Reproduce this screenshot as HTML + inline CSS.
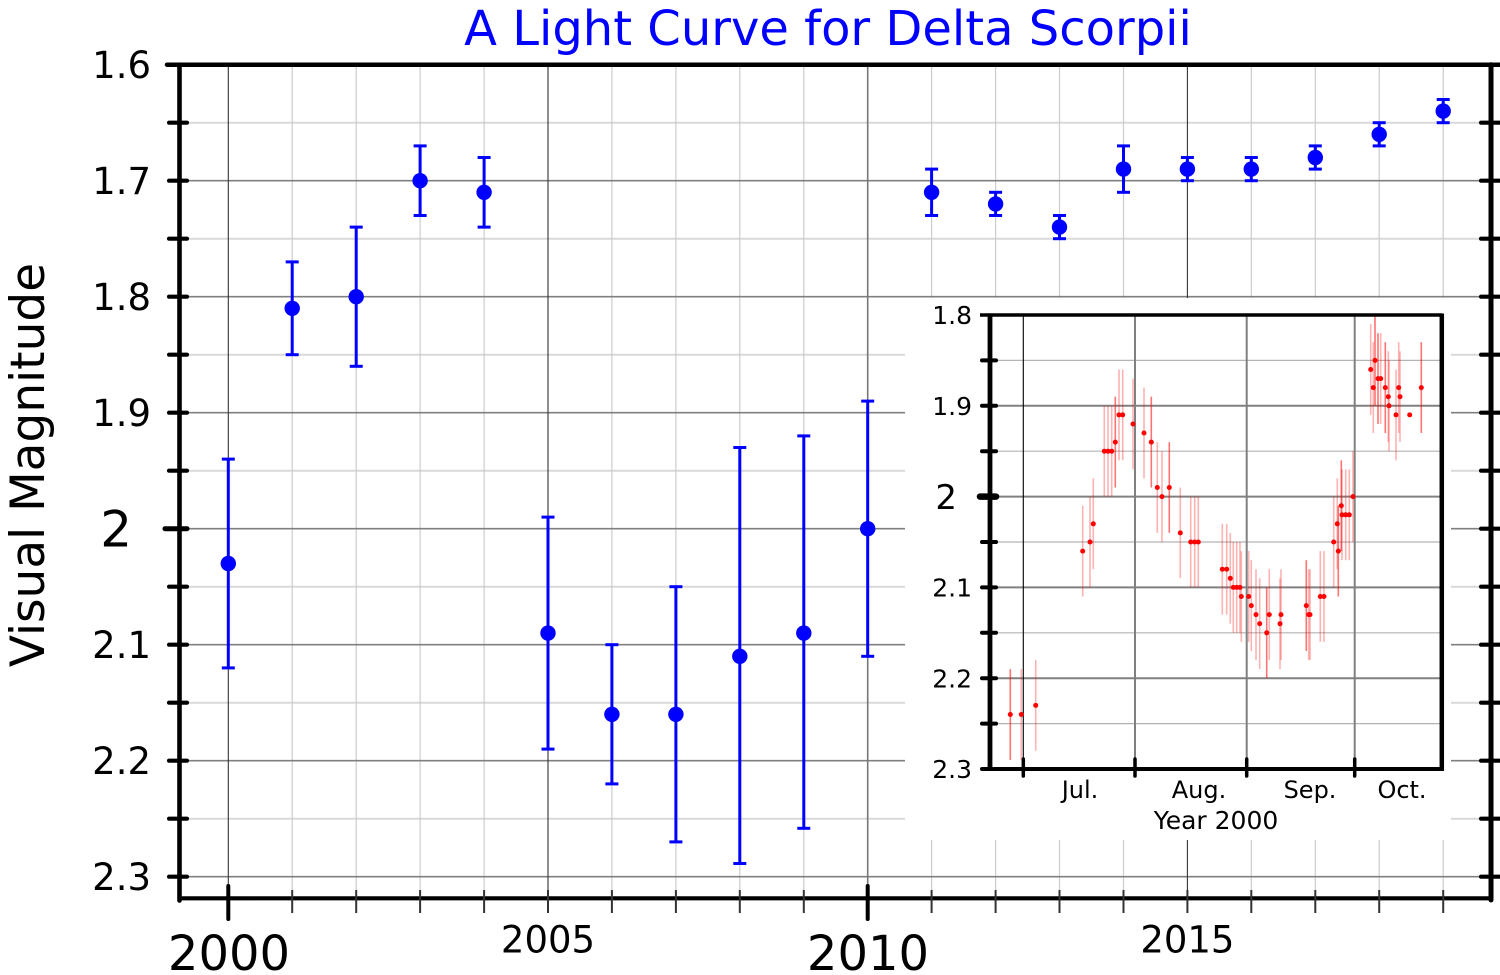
<!DOCTYPE html>
<html><head><meta charset="utf-8"><style>
html,body{margin:0;padding:0;background:#fff;}
svg{display:block;}
text{font-family:"DejaVu Sans","Liberation Sans",sans-serif;fill:#000;}
</style></head><body>
<svg width="1500" height="975" viewBox="0 0 1500 975" xmlns="http://www.w3.org/2000/svg">
<rect x="0" y="0" width="1500" height="975" fill="#fff"/>
<text x="828" y="45" font-size="48" text-anchor="middle" style="fill:#0000ff">A Light Curve for Delta Scorpii</text>
<text x="44" y="465" font-size="47" text-anchor="middle" transform="rotate(-90 44 465)">Visual Magnitude</text>
<g stroke="#d9d9d9" stroke-width="2">
<line x1="180" x2="1491" y1="122.7" y2="122.7"/>
<line x1="180" x2="1491" y1="238.7" y2="238.7"/>
<line x1="180" x2="1491" y1="354.7" y2="354.7"/>
<line x1="180" x2="1491" y1="470.7" y2="470.7"/>
<line x1="180" x2="1491" y1="586.7" y2="586.7"/>
<line x1="180" x2="1491" y1="702.7" y2="702.7"/>
<line x1="180" x2="1491" y1="818.7" y2="818.7"/>
</g>
<g stroke="#cccccc" stroke-width="1.2">
<line x1="292.2" x2="292.2" y1="65" y2="898"/>
<line x1="356.2" x2="356.2" y1="65" y2="898"/>
<line x1="420.1" x2="420.1" y1="65" y2="898"/>
<line x1="484.1" x2="484.1" y1="65" y2="898"/>
<line x1="611.9" x2="611.9" y1="65" y2="898"/>
<line x1="675.9" x2="675.9" y1="65" y2="898"/>
<line x1="739.8" x2="739.8" y1="65" y2="898"/>
<line x1="803.8" x2="803.8" y1="65" y2="898"/>
<line x1="931.6" x2="931.6" y1="65" y2="898"/>
<line x1="995.6" x2="995.6" y1="65" y2="898"/>
<line x1="1059.5" x2="1059.5" y1="65" y2="898"/>
<line x1="1123.5" x2="1123.5" y1="65" y2="898"/>
<line x1="1251.3" x2="1251.3" y1="65" y2="898"/>
<line x1="1315.3" x2="1315.3" y1="65" y2="898"/>
<line x1="1379.2" x2="1379.2" y1="65" y2="898"/>
<line x1="1443.2" x2="1443.2" y1="65" y2="898"/>
</g>
<g stroke="#808080" stroke-width="1.6">
<line x1="180" x2="1491" y1="180.7" y2="180.7"/>
<line x1="180" x2="1491" y1="296.7" y2="296.7"/>
<line x1="180" x2="1491" y1="412.7" y2="412.7"/>
<line x1="180" x2="1491" y1="528.7" y2="528.7"/>
<line x1="180" x2="1491" y1="644.7" y2="644.7"/>
<line x1="180" x2="1491" y1="760.7" y2="760.7"/>
<line x1="180" x2="1491" y1="876.7" y2="876.7"/>
</g>
<g stroke="#333" stroke-width="1.1">
<line x1="228.3" x2="228.3" y1="65" y2="898"/>
<line x1="548" x2="548" y1="65" y2="898"/>
<line x1="1187.4" x2="1187.4" y1="65" y2="898"/>
</g>
<line x1="867.7" x2="867.7" y1="65" y2="898" stroke="#777" stroke-width="1.6"/>
<g stroke="#0000ff" stroke-width="3" fill="#0000ff">
<line x1="228.3" x2="228.3" y1="459.1" y2="667.9"/><line x1="221.8" x2="234.8" y1="459.1" y2="459.1"/><line x1="221.8" x2="234.8" y1="667.9" y2="667.9"/>
<line x1="292.2" x2="292.2" y1="261.9" y2="354.7"/><line x1="285.7" x2="298.7" y1="261.9" y2="261.9"/><line x1="285.7" x2="298.7" y1="354.7" y2="354.7"/>
<line x1="356.2" x2="356.2" y1="227.1" y2="366.3"/><line x1="349.7" x2="362.7" y1="227.1" y2="227.1"/><line x1="349.7" x2="362.7" y1="366.3" y2="366.3"/>
<line x1="420.1" x2="420.1" y1="145.9" y2="215.5"/><line x1="413.6" x2="426.6" y1="145.9" y2="145.9"/><line x1="413.6" x2="426.6" y1="215.5" y2="215.5"/>
<line x1="484.1" x2="484.1" y1="157.5" y2="227.1"/><line x1="477.6" x2="490.6" y1="157.5" y2="157.5"/><line x1="477.6" x2="490.6" y1="227.1" y2="227.1"/>
<line x1="548" x2="548" y1="517.1" y2="749.1"/><line x1="541.5" x2="554.5" y1="517.1" y2="517.1"/><line x1="541.5" x2="554.5" y1="749.1" y2="749.1"/>
<line x1="611.9" x2="611.9" y1="644.7" y2="783.9"/><line x1="605.4" x2="618.4" y1="644.7" y2="644.7"/><line x1="605.4" x2="618.4" y1="783.9" y2="783.9"/>
<line x1="675.9" x2="675.9" y1="586.7" y2="841.9"/><line x1="669.4" x2="682.4" y1="586.7" y2="586.7"/><line x1="669.4" x2="682.4" y1="841.9" y2="841.9"/>
<line x1="739.8" x2="739.8" y1="447.5" y2="863.5"/><line x1="733.3" x2="746.3" y1="447.5" y2="447.5"/><line x1="733.3" x2="746.3" y1="863.5" y2="863.5"/>
<line x1="803.8" x2="803.8" y1="435.9" y2="828.3"/><line x1="797.3" x2="810.3" y1="435.9" y2="435.9"/><line x1="797.3" x2="810.3" y1="828.3" y2="828.3"/>
<line x1="867.7" x2="867.7" y1="401.1" y2="656.3"/><line x1="861.2" x2="874.2" y1="401.1" y2="401.1"/><line x1="861.2" x2="874.2" y1="656.3" y2="656.3"/>
<line x1="931.6" x2="931.6" y1="169.1" y2="215.5"/><line x1="925.1" x2="938.1" y1="169.1" y2="169.1"/><line x1="925.1" x2="938.1" y1="215.5" y2="215.5"/>
<line x1="995.6" x2="995.6" y1="192.3" y2="215.5"/><line x1="989.1" x2="1002.1" y1="192.3" y2="192.3"/><line x1="989.1" x2="1002.1" y1="215.5" y2="215.5"/>
<line x1="1059.5" x2="1059.5" y1="215.5" y2="238.7"/><line x1="1053" x2="1066" y1="215.5" y2="215.5"/><line x1="1053" x2="1066" y1="238.7" y2="238.7"/>
<line x1="1123.5" x2="1123.5" y1="145.9" y2="192.3"/><line x1="1117" x2="1130" y1="145.9" y2="145.9"/><line x1="1117" x2="1130" y1="192.3" y2="192.3"/>
<line x1="1187.4" x2="1187.4" y1="157.5" y2="180.7"/><line x1="1180.9" x2="1193.9" y1="157.5" y2="157.5"/><line x1="1180.9" x2="1193.9" y1="180.7" y2="180.7"/>
<line x1="1251.3" x2="1251.3" y1="157.5" y2="180.7"/><line x1="1244.8" x2="1257.8" y1="157.5" y2="157.5"/><line x1="1244.8" x2="1257.8" y1="180.7" y2="180.7"/>
<line x1="1315.3" x2="1315.3" y1="145.9" y2="169.1"/><line x1="1308.8" x2="1321.8" y1="145.9" y2="145.9"/><line x1="1308.8" x2="1321.8" y1="169.1" y2="169.1"/>
<line x1="1379.2" x2="1379.2" y1="122.7" y2="145.9"/><line x1="1372.7" x2="1385.7" y1="122.7" y2="122.7"/><line x1="1372.7" x2="1385.7" y1="145.9" y2="145.9"/>
<line x1="1443.2" x2="1443.2" y1="99.5" y2="122.7"/><line x1="1436.7" x2="1449.7" y1="99.5" y2="99.5"/><line x1="1436.7" x2="1449.7" y1="122.7" y2="122.7"/>
</g>
<g fill="#0000ff">
<circle cx="228.3" cy="563.5" r="7.7"/>
<circle cx="292.2" cy="308.3" r="7.7"/>
<circle cx="356.2" cy="296.7" r="7.7"/>
<circle cx="420.1" cy="180.7" r="7.7"/>
<circle cx="484.1" cy="192.3" r="7.7"/>
<circle cx="548" cy="633.1" r="7.7"/>
<circle cx="611.9" cy="714.3" r="7.7"/>
<circle cx="675.9" cy="714.3" r="7.7"/>
<circle cx="739.8" cy="656.3" r="7.7"/>
<circle cx="803.8" cy="633.1" r="7.7"/>
<circle cx="867.7" cy="528.7" r="7.7"/>
<circle cx="931.6" cy="192.3" r="7.7"/>
<circle cx="995.6" cy="203.9" r="7.7"/>
<circle cx="1059.5" cy="227.1" r="7.7"/>
<circle cx="1123.5" cy="169.1" r="7.7"/>
<circle cx="1187.4" cy="169.1" r="7.7"/>
<circle cx="1251.3" cy="169.1" r="7.7"/>
<circle cx="1315.3" cy="157.5" r="7.7"/>
<circle cx="1379.2" cy="134.3" r="7.7"/>
<circle cx="1443.2" cy="111.1" r="7.7"/>
</g>
<g stroke="#000" stroke-linecap="round">
<line x1="167" x2="1500" y1="64.7" y2="64.7" stroke-width="4.5"/>
<line x1="179.5" x2="179.5" y1="64.7" y2="900.5" stroke-width="4.6"/>
<line x1="179.5" x2="1491" y1="898.3" y2="898.3" stroke-width="4.2"/>
<line x1="1491" x2="1491" y1="64.7" y2="900" stroke-width="5"/>
</g>
<g stroke="#000" stroke-width="4.2" stroke-linecap="round">
<line x1="169" x2="187" y1="122.7" y2="122.7"/>
<line x1="169" x2="187" y1="180.7" y2="180.7"/>
<line x1="169" x2="187" y1="238.7" y2="238.7"/>
<line x1="169" x2="187" y1="296.7" y2="296.7"/>
<line x1="169" x2="187" y1="354.7" y2="354.7"/>
<line x1="169" x2="187" y1="412.7" y2="412.7"/>
<line x1="169" x2="187" y1="470.7" y2="470.7"/>
<line x1="165" x2="187" y1="528.7" y2="528.7" stroke-width="5"/>
<line x1="169" x2="187" y1="586.7" y2="586.7"/>
<line x1="169" x2="187" y1="644.7" y2="644.7"/>
<line x1="169" x2="187" y1="702.7" y2="702.7"/>
<line x1="169" x2="187" y1="760.7" y2="760.7"/>
<line x1="169" x2="187" y1="818.7" y2="818.7"/>
<line x1="169" x2="187" y1="876.7" y2="876.7"/>
<line x1="1481" x2="1500" y1="122.7" y2="122.7"/>
<line x1="1481" x2="1500" y1="180.7" y2="180.7"/>
<line x1="1481" x2="1500" y1="238.7" y2="238.7"/>
<line x1="1481" x2="1500" y1="296.7" y2="296.7"/>
<line x1="1481" x2="1500" y1="354.7" y2="354.7"/>
<line x1="1481" x2="1500" y1="412.7" y2="412.7"/>
<line x1="1481" x2="1500" y1="470.7" y2="470.7"/>
<line x1="1481" x2="1500" y1="528.7" y2="528.7"/>
<line x1="1481" x2="1500" y1="586.7" y2="586.7"/>
<line x1="1481" x2="1500" y1="644.7" y2="644.7"/>
<line x1="1481" x2="1500" y1="702.7" y2="702.7"/>
<line x1="1481" x2="1500" y1="760.7" y2="760.7"/>
<line x1="1481" x2="1500" y1="818.7" y2="818.7"/>
<line x1="1481" x2="1500" y1="876.7" y2="876.7"/>
</g>
<g stroke="#000" stroke-width="4" stroke-linecap="round">
<line x1="228.3" x2="228.3" y1="886" y2="919"/>
<line x1="867.7" x2="867.7" y1="886" y2="919"/>
</g>
<g stroke="#333" stroke-width="2">
<line x1="292.2" x2="292.2" y1="890" y2="913"/>
<line x1="356.2" x2="356.2" y1="890" y2="913"/>
<line x1="420.1" x2="420.1" y1="890" y2="913"/>
<line x1="484.1" x2="484.1" y1="890" y2="913"/>
<line x1="548" x2="548" y1="890" y2="913"/>
<line x1="611.9" x2="611.9" y1="890" y2="913"/>
<line x1="675.9" x2="675.9" y1="890" y2="913"/>
<line x1="739.8" x2="739.8" y1="890" y2="913"/>
<line x1="803.8" x2="803.8" y1="890" y2="913"/>
<line x1="931.6" x2="931.6" y1="890" y2="913"/>
<line x1="995.6" x2="995.6" y1="890" y2="913"/>
<line x1="1059.5" x2="1059.5" y1="890" y2="913"/>
<line x1="1123.5" x2="1123.5" y1="890" y2="913"/>
<line x1="1187.4" x2="1187.4" y1="890" y2="913"/>
<line x1="1251.3" x2="1251.3" y1="890" y2="913"/>
<line x1="1315.3" x2="1315.3" y1="890" y2="913"/>
<line x1="1379.2" x2="1379.2" y1="890" y2="913"/>
<line x1="1443.2" x2="1443.2" y1="890" y2="913"/>
</g>
<g font-size="37" text-anchor="end">
<text x="151" y="78.2">1.6</text>
<text x="151" y="194.2">1.7</text>
<text x="151" y="310.2">1.8</text>
<text x="151" y="426.2">1.9</text>
<text x="132" y="546.7" font-size="50">2</text>
<text x="151" y="658.2">2.1</text>
<text x="151" y="774.2">2.2</text>
<text x="151" y="890.2">2.3</text>
</g>
<g text-anchor="middle">
<text x="229" y="970" font-size="48">2000</text>
<text x="548" y="952.7" font-size="37">2005</text>
<text x="868" y="970" font-size="48">2010</text>
<text x="1187.4" y="952.7" font-size="37">2015</text>
</g>
<rect x="905" y="298" width="546" height="542" fill="#fff"/>
<g stroke="#b3b3b3" stroke-width="1.2">
<line x1="990" x2="1442" y1="360.4" y2="360.4"/>
<line x1="990" x2="1442" y1="451.2" y2="451.2"/>
<line x1="990" x2="1442" y1="542" y2="542"/>
<line x1="990" x2="1442" y1="632.8" y2="632.8"/>
<line x1="990" x2="1442" y1="723.6" y2="723.6"/>
</g>
<g stroke="#808080" stroke-width="2">
<line x1="990" x2="1442" y1="405.8" y2="405.8"/>
<line x1="990" x2="1442" y1="496.6" y2="496.6"/>
<line x1="990" x2="1442" y1="587.4" y2="587.4"/>
<line x1="990" x2="1442" y1="678.2" y2="678.2"/>
<line x1="1135" x2="1135" y1="315" y2="769"/>
<line x1="1246.7" x2="1246.7" y1="315" y2="769"/>
<line x1="1354.7" x2="1354.7" y1="315" y2="769"/>
</g>
<line x1="1023.3" x2="1023.3" y1="315" y2="769" stroke="#000" stroke-width="1.1"/>
<g stroke="rgba(255,0,0,0.3)" stroke-width="1.6">
<line x1="1021.3" x2="1021.3" y1="669.1" y2="759.9"/>
<line x1="1035.7" x2="1035.7" y1="660" y2="750.8"/>
<line x1="1082.7" x2="1082.7" y1="505.7" y2="596.5"/>
<line x1="1090" x2="1090" y1="496.6" y2="587.4"/>
<line x1="1093.3" x2="1093.3" y1="478.4" y2="569.2"/>
<line x1="1104.3" x2="1104.3" y1="405.8" y2="496.6"/>
<line x1="1108" x2="1108" y1="405.8" y2="496.6"/>
<line x1="1111.7" x2="1111.7" y1="405.8" y2="496.6"/>
<line x1="1119" x2="1119" y1="369.5" y2="460.3"/>
<line x1="1122.7" x2="1122.7" y1="369.5" y2="460.3"/>
<line x1="1133" x2="1133" y1="378.6" y2="469.4"/>
<line x1="1144" x2="1144" y1="387.6" y2="478.4"/>
<line x1="1157.3" x2="1157.3" y1="442.1" y2="532.9"/>
<line x1="1162" x2="1162" y1="451.2" y2="542"/>
<line x1="1180.3" x2="1180.3" y1="487.5" y2="578.3"/>
<line x1="1190.7" x2="1190.7" y1="496.6" y2="587.4"/>
<line x1="1194.7" x2="1194.7" y1="496.6" y2="587.4"/>
<line x1="1198.3" x2="1198.3" y1="496.6" y2="587.4"/>
<line x1="1222.3" x2="1222.3" y1="523.8" y2="614.6"/>
<line x1="1226.7" x2="1226.7" y1="523.8" y2="614.6"/>
<line x1="1230.3" x2="1230.3" y1="532.9" y2="623.7"/>
<line x1="1233.3" x2="1233.3" y1="542" y2="632.8"/>
<line x1="1236.7" x2="1236.7" y1="542" y2="632.8"/>
<line x1="1240" x2="1240" y1="542" y2="632.8"/>
<line x1="1241.3" x2="1241.3" y1="551.1" y2="641.9"/>
<line x1="1248.7" x2="1248.7" y1="551.1" y2="641.9"/>
<line x1="1251.3" x2="1251.3" y1="560.2" y2="651"/>
<line x1="1256" x2="1256" y1="569.2" y2="660"/>
<line x1="1259.7" x2="1259.7" y1="578.3" y2="669.1"/>
<line x1="1269.3" x2="1269.3" y1="569.2" y2="660"/>
<line x1="1280" x2="1280" y1="578.3" y2="669.1"/>
<line x1="1281" x2="1281" y1="569.2" y2="660"/>
<line x1="1308.7" x2="1308.7" y1="569.2" y2="660"/>
<line x1="1310" x2="1310" y1="569.2" y2="660"/>
<line x1="1320.3" x2="1320.3" y1="551.1" y2="641.9"/>
<line x1="1324" x2="1324" y1="551.1" y2="641.9"/>
<line x1="1333.7" x2="1333.7" y1="496.6" y2="587.4"/>
<line x1="1337.3" x2="1337.3" y1="478.4" y2="569.2"/>
<line x1="1342" x2="1342" y1="469.4" y2="560.2"/>
<line x1="1345.7" x2="1345.7" y1="469.4" y2="560.2"/>
<line x1="1349.3" x2="1349.3" y1="469.4" y2="560.2"/>
<line x1="1353" x2="1353" y1="451.2" y2="542"/>
<line x1="1370.7" x2="1370.7" y1="324.1" y2="414.9"/>
<line x1="1373.3" x2="1373.3" y1="342.2" y2="433"/>
<line x1="1380.7" x2="1380.7" y1="333.2" y2="424"/>
<line x1="1388.3" x2="1388.3" y1="351.3" y2="442.1"/>
<line x1="1389" x2="1389" y1="360.4" y2="451.2"/>
<line x1="1396" x2="1396" y1="369.5" y2="460.3"/>
<line x1="1398.7" x2="1398.7" y1="342.2" y2="433"/>
<line x1="1400" x2="1400" y1="351.3" y2="442.1"/>
</g>
<g stroke="rgba(255,0,0,0.55)" stroke-width="1.6">
<line x1="1010.3" x2="1010.3" y1="669.1" y2="759.9"/>
<line x1="1115.3" x2="1115.3" y1="396.7" y2="487.5"/>
<line x1="1151.3" x2="1151.3" y1="396.7" y2="487.5"/>
<line x1="1169.3" x2="1169.3" y1="442.1" y2="532.9"/>
<line x1="1266.7" x2="1266.7" y1="587.4" y2="678.2"/>
<line x1="1306.3" x2="1306.3" y1="560.2" y2="651"/>
<line x1="1338.3" x2="1338.3" y1="505.7" y2="596.5"/>
<line x1="1341.3" x2="1341.3" y1="460.3" y2="551.1"/>
<line x1="1375" x2="1375" y1="315" y2="405.8"/>
<line x1="1378" x2="1378" y1="333.2" y2="424"/>
<line x1="1385.3" x2="1385.3" y1="342.2" y2="433"/>
<line x1="1421.3" x2="1421.3" y1="342.2" y2="433"/>
</g>
<g fill="#ff0000">
<circle cx="1010.3" cy="714.5" r="2.5"/>
<circle cx="1021.3" cy="714.5" r="2.5"/>
<circle cx="1035.7" cy="705.4" r="2.5"/>
<circle cx="1082.7" cy="551.1" r="2.5"/>
<circle cx="1090" cy="542" r="2.5"/>
<circle cx="1093.3" cy="523.8" r="2.5"/>
<circle cx="1104.3" cy="451.2" r="2.5"/>
<circle cx="1108" cy="451.2" r="2.5"/>
<circle cx="1111.7" cy="451.2" r="2.5"/>
<circle cx="1115.3" cy="442.1" r="2.5"/>
<circle cx="1119" cy="414.9" r="2.5"/>
<circle cx="1122.7" cy="414.9" r="2.5"/>
<circle cx="1133" cy="424" r="2.5"/>
<circle cx="1144" cy="433" r="2.5"/>
<circle cx="1151.3" cy="442.1" r="2.5"/>
<circle cx="1157.3" cy="487.5" r="2.5"/>
<circle cx="1162" cy="496.6" r="2.5"/>
<circle cx="1169.3" cy="487.5" r="2.5"/>
<circle cx="1180.3" cy="532.9" r="2.5"/>
<circle cx="1190.7" cy="542" r="2.5"/>
<circle cx="1194.7" cy="542" r="2.5"/>
<circle cx="1198.3" cy="542" r="2.5"/>
<circle cx="1222.3" cy="569.2" r="2.5"/>
<circle cx="1226.7" cy="569.2" r="2.5"/>
<circle cx="1230.3" cy="578.3" r="2.5"/>
<circle cx="1233.3" cy="587.4" r="2.5"/>
<circle cx="1236.7" cy="587.4" r="2.5"/>
<circle cx="1240" cy="587.4" r="2.5"/>
<circle cx="1241.3" cy="596.5" r="2.5"/>
<circle cx="1248.7" cy="596.5" r="2.5"/>
<circle cx="1251.3" cy="605.6" r="2.5"/>
<circle cx="1256" cy="614.6" r="2.5"/>
<circle cx="1259.7" cy="623.7" r="2.5"/>
<circle cx="1266.7" cy="632.8" r="2.5"/>
<circle cx="1269.3" cy="614.6" r="2.5"/>
<circle cx="1280" cy="623.7" r="2.5"/>
<circle cx="1281" cy="614.6" r="2.5"/>
<circle cx="1306.3" cy="605.6" r="2.5"/>
<circle cx="1308.7" cy="614.6" r="2.5"/>
<circle cx="1310" cy="614.6" r="2.5"/>
<circle cx="1320.3" cy="596.5" r="2.5"/>
<circle cx="1324" cy="596.5" r="2.5"/>
<circle cx="1333.7" cy="542" r="2.5"/>
<circle cx="1338.3" cy="551.1" r="2.5"/>
<circle cx="1337.3" cy="523.8" r="2.5"/>
<circle cx="1341.3" cy="505.7" r="2.5"/>
<circle cx="1342" cy="514.8" r="2.5"/>
<circle cx="1345.7" cy="514.8" r="2.5"/>
<circle cx="1349.3" cy="514.8" r="2.5"/>
<circle cx="1353" cy="496.6" r="2.5"/>
<circle cx="1370.7" cy="369.5" r="2.5"/>
<circle cx="1373.3" cy="387.6" r="2.5"/>
<circle cx="1375" cy="360.4" r="2.5"/>
<circle cx="1378" cy="378.6" r="2.5"/>
<circle cx="1380.7" cy="378.6" r="2.5"/>
<circle cx="1385.3" cy="387.6" r="2.5"/>
<circle cx="1388.3" cy="396.7" r="2.5"/>
<circle cx="1389" cy="405.8" r="2.5"/>
<circle cx="1396" cy="414.9" r="2.5"/>
<circle cx="1398.7" cy="387.6" r="2.5"/>
<circle cx="1400" cy="396.7" r="2.5"/>
<circle cx="1409.7" cy="414.9" r="2.5"/>
<circle cx="1421.3" cy="387.6" r="2.5"/>
</g>
<g stroke="#000">
<line x1="980" x2="1442" y1="315" y2="315" stroke-width="3.5"/>
<line x1="990" x2="990" y1="313.5" y2="771" stroke-width="4.8"/>
<line x1="988" x2="1443.5" y1="769" y2="769" stroke-width="4"/>
<line x1="1441.8" x2="1441.8" y1="313.5" y2="771" stroke-width="4.5"/>
</g>
<g stroke="#000" stroke-width="4" stroke-linecap="round">
<line x1="982" x2="996" y1="360.4" y2="360.4"/>
<line x1="982" x2="996" y1="405.8" y2="405.8"/>
<line x1="982" x2="996" y1="451.2" y2="451.2"/>
<line x1="980" x2="996" y1="496.6" y2="496.6" stroke-width="6.5"/>
<line x1="982" x2="996" y1="542" y2="542"/>
<line x1="982" x2="996" y1="587.4" y2="587.4"/>
<line x1="982" x2="996" y1="632.8" y2="632.8"/>
<line x1="982" x2="996" y1="678.2" y2="678.2"/>
<line x1="982" x2="996" y1="723.6" y2="723.6"/>
<line x1="982" x2="996" y1="769" y2="769"/>
<line x1="1023.3" x2="1023.3" y1="759" y2="776" stroke-width="3.5"/>
<line x1="1135" x2="1135" y1="759" y2="776" stroke-width="3.5"/>
<line x1="1246.7" x2="1246.7" y1="759" y2="776" stroke-width="3.5"/>
<line x1="1354.7" x2="1354.7" y1="759" y2="776" stroke-width="3.5"/>
</g>
<g font-size="25" text-anchor="end">
<text x="972" y="324.2">1.8</text>
<text x="972" y="415">1.9</text>
<text x="957" y="509" font-size="34">2</text>
<text x="972" y="596.6">2.1</text>
<text x="972" y="687.4">2.2</text>
<text x="972" y="778.2">2.3</text>
</g>
<g font-size="24" text-anchor="middle">
<text x="1080" y="798">Jul.</text>
<text x="1199" y="798">Aug.</text>
<text x="1310" y="798">Sep.</text>
<text x="1402" y="798">Oct.</text>
</g>
<text x="1216" y="829" font-size="25" text-anchor="middle">Year 2000</text>
</svg>
</body></html>
